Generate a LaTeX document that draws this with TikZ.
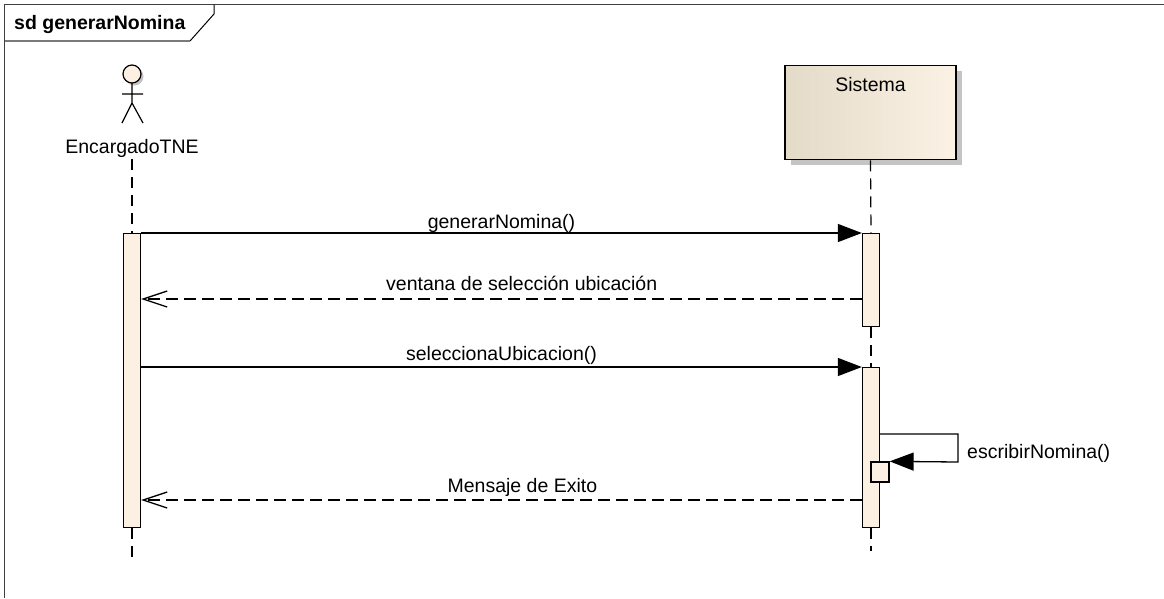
\documentclass[tikz,border=0pt]{standalone}
\usepackage{fontspec}
\setmainfont{Liberation Sans}
\usetikzlibrary{arrows.meta,calc}
\definecolor{cream}{HTML}{FBF0E2}
\definecolor{sisL}{HTML}{E4DAC8}
\definecolor{sisR}{HTML}{FBF2E5}
\definecolor{shadowgray}{HTML}{C4C4C4}
\definecolor{framecol}{HTML}{404040}
\definecolor{tabgray}{HTML}{7A7A7A}
\newcommand{\lblfont}{\fontsize{19.5}{23}\selectfont}
\tikzset{
  lifeline/.style={line width=1.2pt, dash pattern=on 11pt off 7pt},
  actbar/.style={draw, line width=1.3pt, fill=cream, minimum width=17pt, inner sep=0pt, anchor=north},
  syncmsg/.style={line width=1.3pt, -{Triangle[length=24pt,width=18pt]}},
  retmsg/.style={line width=1.3pt, dash pattern=on 12pt off 6pt, -{Straight Barb[length=24pt,width=16pt,line width=1.3pt]}},
  msglabel/.style={font=\lblfont, anchor=base, inner sep=0pt},
}
\begin{document}
\begin{tikzpicture}[x=1pt,y=-1pt]
\useasboundingbox (0,0) rectangle (1164,598);
\fill[white] (0,0) rectangle (1164,598);
% frame
\draw[framecol, line width=1.6pt] (4.5,598) -- (4.5,4.5) -- (1164,4.5);
\draw[black, line width=1pt] (214,4.5) -- (214,14) -- (190,41);
\draw[tabgray, line width=2pt] (190,41) -- (4.5,41);
\node[font=\bfseries\fontsize{19.5}{23}\selectfont, anchor=base west, inner sep=0pt] (title) at (14,29.5) {sd generarNomina};
% actor
\fill[shadowgray] (134.5,76.5) circle[radius=9pt];
\draw[line width=1.2pt, fill=cream] (132,74) circle[radius=9pt];
\draw[line width=1.2pt] (132,83) -- (132,103) (122,94) -- (143,94) (122,123) -- (132,103) -- (143,123);
\node[msglabel] (enc) at (132,153) {EncargadoTNE};
% system
\fill[shadowgray] (791,71) rectangle (962,165);
\node[draw, line width=1.3pt, left color=sisL, right color=sisR, minimum width=171pt, minimum height=94pt, inner sep=0pt, anchor=north] (sis) at (870.5,65) {};
\node[msglabel] (sistxt) at ($(sis.north)+(0,26)$) {Sistema};
% activation bars
\node[actbar, minimum height=294pt] (la) at (132,233) {};
\node[actbar, minimum height=93pt] (rb1) at (871,233) {};
\node[actbar, minimum height=160pt] (rb2) at (871,367) {};
% lifelines
\coordinate (lend) at (132,557);
\coordinate (rend) at (871,551);
\draw[lifeline] (132,159) -- (la.north);
\draw[lifeline] (la.south) -- (lend);
\draw[lifeline] (sis.south) -- (rb1.north);
\draw[lifeline] (rb1.south) -- (rb2.north);
\draw[lifeline] (rb2.south) -- (rend);
% small nested activation
\node[draw, line width=1.3pt, fill=cream, minimum width=18pt, minimum height=20pt, inner sep=0pt] (sb) at (880,472) {};
% messages
\coordinate (y2) at (0,299);
\coordinate (y4) at (0,500);
\coordinate (ys) at (0,434);
\coordinate (sc1) at (958,434);
\coordinate (sc2) at (958,462);
\draw[syncmsg] (la.north east) -- (rb1.north west)
  node[msglabel, pos=0.5, yshift=5pt] (l1) {generarNomina()};
\draw[retmsg] (rb1.west |- y2) -- (la.east |- y2)
  node[msglabel, pos=0.472, yshift=9pt] (l2) {ventana de selección ubicación};
\draw[syncmsg] (la.east |- rb2.north) -- (rb2.north west)
  node[msglabel, pos=0.5, yshift=7pt] (l3) {seleccionaUbicacion()};
\draw[syncmsg] (rb2.east |- ys) -- (sc1) -- (sc2) -- (sb.north east);
\node[font=\lblfont, anchor=base west, inner sep=0pt] (l5) at (967,458) {escribirNomina()};
\draw[retmsg] (rb2.west |- y4) -- (la.east |- y4)
  node[msglabel, pos=0.471, yshift=8pt] (l4) {Mensaje de Exito};
\end{tikzpicture}
\end{document}
